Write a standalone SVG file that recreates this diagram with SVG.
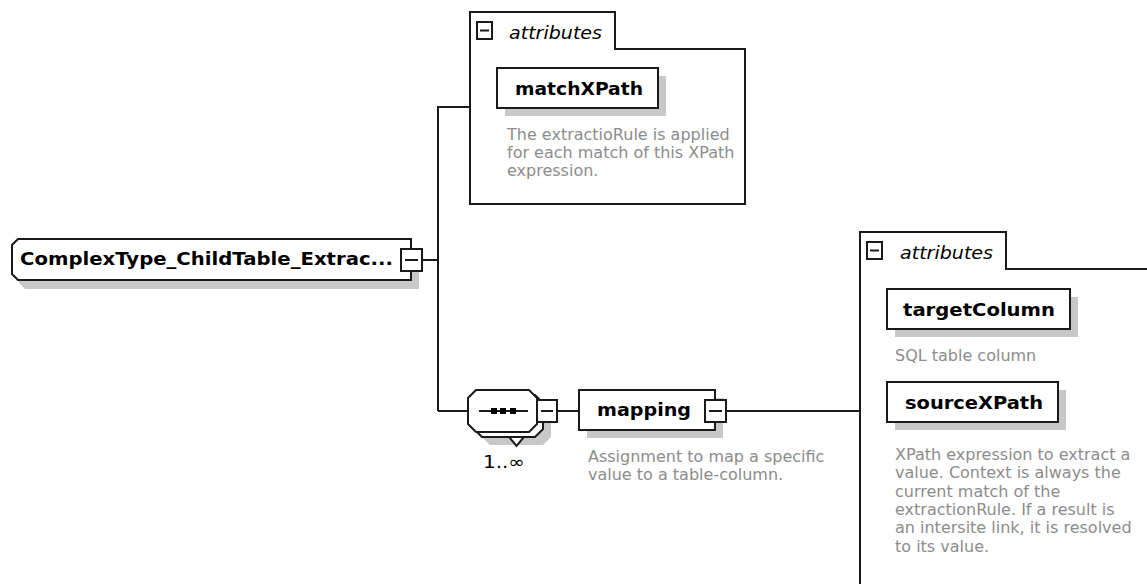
<svg xmlns="http://www.w3.org/2000/svg" width="1147" height="584" viewBox="0 0 1147 584">
  <style>
    .bg { fill: #ffffff; }
    .edge { fill: none; stroke: #1a1a1a; stroke-width: 2; }
    .box { fill: #ffffff; stroke: #1a1a1a; stroke-width: 2; }
    .shadow { fill: #c8c8c8; stroke: none; }
    .btn { fill: #ffffff; stroke: #1a1a1a; stroke-width: 2; }
    .minus { stroke: #1a1a1a; stroke-width: 2; }
    .name { font-family: "DejaVu Sans", Verdana, sans-serif; font-weight: bold; font-size: 18px; fill: #000000; }
    .desc { font-family: "DejaVu Sans", Verdana, sans-serif; font-size: 16px; fill: #8c8c8c; }
    .grp { font-family: "DejaVu Sans", Verdana, sans-serif; font-style: italic; font-size: 17px; fill: #000000; }
    .occ { font-family: "DejaVu Sans", Verdana, sans-serif; font-size: 17px; fill: #000000; }
  </style>

  <rect class="bg" x="0" y="0" width="1147" height="584"/>

  <!-- connectors -->
  <g id="connectors" class="edge">
    <path d="M422,260 H438"/>
    <path d="M438,106 V411"/>
    <path d="M438,107 H470"/>
    <path d="M438,411 H468"/>
    <path d="M557,411 H579"/>
    <path d="M726,411 H860"/>
  </g>

  <!-- root complex type -->
  <g id="root">
    <path class="shadow" d="M25,248 H419 V289 H25 L19,283 V256 Z"/>
    <path class="box" d="M18,239 H411 V280 H18 L12,274 V245 Z"/>
    <text class="name" x="20" y="265" textLength="373" lengthAdjust="spacingAndGlyphs">ComplexType_ChildTable_Extrac...</text>
    <rect class="btn" x="401" y="249" width="21" height="22"/>
    <line class="minus" x1="405" y1="260" x2="418" y2="260"/>
  </g>

  <!-- attribute group of the root -->
  <g id="attributes-root">
    <path class="box" d="M470,204 V12 H615 V49 H745 V204 Z"/>
    <rect class="btn" x="477" y="22" width="15" height="17"/>
    <line class="minus" x1="480" y1="30.5" x2="489" y2="30.5"/>
    <text class="grp" x="509" y="39" textLength="93" lengthAdjust="spacingAndGlyphs">attributes</text>
  </g>

  <g id="matchXPath">
    <rect class="shadow" x="505" y="76" width="161" height="40"/>
    <rect class="box" x="497" y="68" width="161" height="40"/>
    <text class="name" x="515" y="95" textLength="128" lengthAdjust="spacingAndGlyphs">matchXPath</text>
    <text class="desc" x="507" y="140">The extractioRule is applied</text>
    <text class="desc" x="507" y="158">for each match of this XPath</text>
    <text class="desc" x="507" y="176">expression.</text>
  </g>

  <!-- sequence compositor, 1..unbounded -->
  <g id="sequence">
    <path class="shadow" d="M490,403 H543 L551,411 V437 L543,445 H490 L482,437 V411 Z"/>
    <path class="box" d="M482,395 H535 L543,403 V429 L535,437 H482 L474,429 V403 Z"/>
    <path class="box" d="M476,390 H529 L537,398 V424 L529,432 H476 L468,424 V398 Z"/>
    <path class="box" d="M509,437 H524 L516.5,446 Z"/>
    <line class="minus" x1="479" y1="411" x2="528" y2="411"/>
    <rect x="491" y="408" width="6" height="6" fill="#000000"/>
    <rect x="500" y="408" width="6" height="6" fill="#000000"/>
    <rect x="510" y="408" width="6" height="6" fill="#000000"/>
    <rect class="btn" x="537" y="400" width="20" height="22"/>
    <line class="minus" x1="541" y1="411" x2="553" y2="411"/>
    <text class="occ" x="483" y="468" textLength="42" lengthAdjust="spacingAndGlyphs">1..∞</text>
  </g>

  <!-- mapping element -->
  <g id="mapping">
    <rect class="shadow" x="587" y="398" width="136" height="40"/>
    <rect class="box" x="579" y="390" width="136" height="40"/>
    <text class="name" x="597" y="416" textLength="94" lengthAdjust="spacingAndGlyphs">mapping</text>
    <rect class="btn" x="705" y="400" width="21" height="22"/>
    <line class="minus" x1="709" y1="411" x2="722" y2="411"/>
    <text class="desc" x="588" y="462">Assignment to map a specific</text>
    <text class="desc" x="588" y="480">value to a table-column.</text>
  </g>

  <!-- attribute group of mapping -->
  <g id="attributes-mapping">
    <path class="box" d="M860,590 V232 H1006 V269 H1150"/>
    <rect class="btn" x="867" y="242" width="15" height="17"/>
    <line class="minus" x1="870" y1="250.5" x2="879" y2="250.5"/>
    <text class="grp" x="900" y="259" textLength="93" lengthAdjust="spacingAndGlyphs">attributes</text>
  </g>

  <g id="targetColumn">
    <rect class="shadow" x="895" y="297" width="183" height="40"/>
    <rect class="box" x="887" y="289" width="183" height="40"/>
    <text class="name" x="903" y="316" textLength="152" lengthAdjust="spacingAndGlyphs">targetColumn</text>
    <text class="desc" x="895" y="361">SQL table column</text>
  </g>

  <g id="sourceXPath">
    <rect class="shadow" x="895" y="390" width="171" height="40"/>
    <rect class="box" x="887" y="382" width="171" height="40"/>
    <text class="name" x="905" y="409" textLength="138" lengthAdjust="spacingAndGlyphs">sourceXPath</text>
    <text class="desc" x="895" y="460">XPath expression to extract a</text>
    <text class="desc" x="895" y="478.3">value. Context is always the</text>
    <text class="desc" x="895" y="496.6">current match of the</text>
    <text class="desc" x="895" y="514.9">extractionRule. If a result is</text>
    <text class="desc" x="895" y="533.2">an intersite link, it is resolved</text>
    <text class="desc" x="895" y="551.5">to its value.</text>
  </g>
</svg>
